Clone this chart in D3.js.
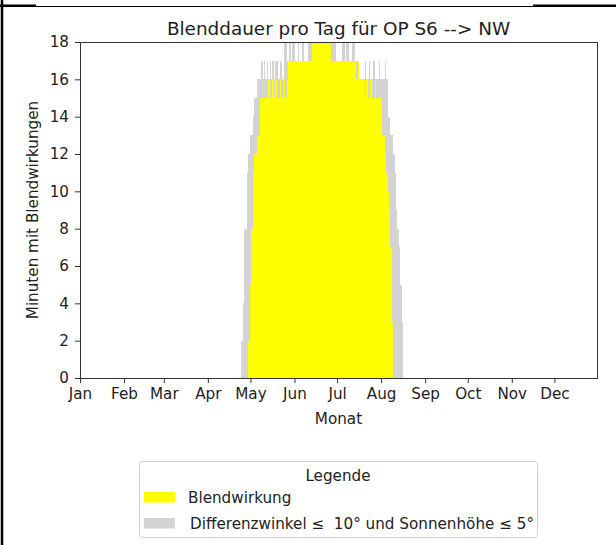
<!DOCTYPE html>
<html>
<head>
<meta charset="utf-8">
<script src="https://cdn.jsdelivr.net/npm/d3@7"></script>
<style>
  html, body { margin: 0; padding: 0; background: #fff; }
  svg { display: block; font-family: "DejaVu Sans", sans-serif; }
</style>
</head>
<body>
<svg id="chart" width="616" height="545"></svg>
<script>
// ---- data ----
const title = "Blenddauer pro Tag für OP S6 --> NW";
const xLabel = "Monat";
const yLabel = "Minuten mit Blendwirkungen";
const legendTitle = "Legende";
const seriesNames = ["Blendwirkung", "Differenzwinkel ≤  10° und Sonnenhöhe ≤ 5°"];
const seriesColors = ["#ffff00", "#d3d3d3"];
const year = 2021;
const firstDay = "2021-04-25"; // first day of both daily arrays
// minutes per day, condition "Differenzwinkel / Sonnenhöhe" (grey), from Apr 25
const greyMinutes = [
  2,4,8,8,11,12,13,13,14,15,15,16,16,16,
  17,16,17,16,17,16,17,16,17,16,17,17,16,17,17,16,
  18,18,17,17,18,17,18,18,17,17,18,17,17,18,17,17,17,18,18,18,
  18,18,18,18,18,18,18,18,18,18,18,18,18,
  18,18,18,18,17,17,17,17,18,18,17,18,18,17,17,18,18,17,17,17,
  16,16,16,16,17,16,16,17,16,16,17,16,16,16,17,16,16,16,17,16,
  14,14,13,13,12,11,9,8,7,5,3
];
// minutes per day with Blendwirkung (yellow), from Apr 25
const yellowMinutes = [
  0,0,0,0,0,
  2,5,8,11,12,12,13,13,
  15,15,15,15,15,15,16,15,15,16,15,16,15,15,16,15,15,16,15,16,
  17,17,17,17,17,17,17,17,17,17,17,17,17,17,17,17,17,
  18,18,18,18,18,18,18,18,18,18,18,18,18,
  17,17,17,17,17,17,17,17,17,17,17,17,17,17,17,17,17,17,
  16,17,16,16,16,16,15,16,15,15,16,15,15,16,15,15,15,15,
  13,13,12,11,10,9,7,3
];
const yTicks = [0,2,4,6,8,10,12,14,16,18];
const yMax = 18;

// ---- layout ----
const svg = d3.select("#chart");
const m = {left: 80, right: 597, top: 42, bottom: 378};
const fs = "15.2px";
const parse = d3.utcParse("%Y-%m-%d");
const start = parse(firstDay);
const x = d3.scaleUtc()
  .domain([new Date(Date.UTC(year,0,1)), new Date(Date.UTC(year,11,31))])
  .range([m.left, m.right]);
const y = d3.scaleLinear().domain([0, yMax]).range([m.bottom, m.top]);

// frame lines of the surrounding document
svg.append("line").attr("x1",2).attr("x2",2).attr("y1",0).attr("y2",545)
  .attr("stroke","#000").attr("stroke-width",2.5);
svg.append("line").attr("x1",0).attr("x2",616).attr("y1",6.5).attr("y2",6.5)
  .attr("stroke","#000").attr("stroke-width",1);
svg.append("line").attr("x1",0).attr("x2",36).attr("y1",5.5).attr("y2",5.5)
  .attr("stroke","#000").attr("stroke-width",2);
svg.append("line").attr("x1",533).attr("x2",616).attr("y1",5.5).attr("y2",5.5)
  .attr("stroke","#000").attr("stroke-width",2);

const g = svg.append("g");
svg.append("clipPath").attr("id","plotclip").append("rect")
  .attr("x", m.left).attr("y", m.top).attr("width", m.right-m.left).attr("height", m.bottom-m.top);

function dayData(arr){
  return arr.map((v,i) => ({date: d3.utcDay.offset(start, i), v}));
}
function drawBars(arr, color){
  g.append("g").attr("clip-path","url(#plotclip)")
    .selectAll("rect").data(dayData(arr).filter(d => d.v > 0)).join("rect")
    .attr("x", d => {
      const w = x(d3.utcDay.offset(d.date,1)) - x(d.date);
      return x(d.date) - w/2;
    })
    .attr("width", d => x(d3.utcDay.offset(d.date,1)) - x(d.date))
    .attr("y", d => y(d.v))
    .attr("height", d => y(0) - y(d.v))
    .attr("fill", color)
    .attr("shape-rendering","crispEdges");
}
drawBars(greyMinutes, seriesColors[1]);
drawBars(yellowMinutes, seriesColors[0]);

// axes
const axisColor = "#333";
const xAxis = d3.axisBottom(x)
  .tickValues(d3.utcMonth.range(new Date(Date.UTC(year,0,1)), new Date(Date.UTC(year,11,2))))
  .tickFormat(d3.utcFormat("%b")).tickSize(5).tickPadding(5);
const yAxis = d3.axisLeft(y).tickValues(yTicks).tickSize(5).tickPadding(6);

const gx = svg.append("g").attr("transform", `translate(0,${m.bottom})`).call(xAxis);
const gy = svg.append("g").attr("transform", `translate(${m.left},0)`).call(yAxis);
[gx, gy].forEach(a => {
  a.select(".domain").remove();
  a.selectAll(".tick line").attr("stroke", axisColor).attr("stroke-width", 1);
  a.selectAll(".tick text").attr("fill","#222").attr("font-size", fs)
    .attr("font-family","DejaVu Sans");
});

// spines
svg.append("rect").attr("x", m.left).attr("y", m.top)
  .attr("width", m.right-m.left).attr("height", m.bottom-m.top)
  .attr("fill","none").attr("stroke", axisColor).attr("stroke-width",1)
  .attr("shape-rendering","crispEdges");

// titles
svg.append("text").attr("x", (m.left+m.right)/2).attr("y", 35)
  .attr("text-anchor","middle").attr("font-size","18.4px").attr("fill","#222").text(title);
svg.append("text").attr("x", (m.left+m.right)/2).attr("y", 424)
  .attr("text-anchor","middle").attr("font-size", fs).attr("fill","#222").text(xLabel);
svg.append("text").attr("transform", `translate(38,${(m.top+m.bottom)/2}) rotate(-90)`)
  .attr("text-anchor","middle").attr("font-size", fs).attr("fill","#222").text(yLabel);

// legend
const lg = svg.append("g");
lg.append("rect").attr("x",139.5).attr("y",461.5).attr("width",398).attr("height",76)
  .attr("rx",3).attr("fill","#fff").attr("stroke","#d0d0d0").attr("stroke-width",1);
lg.append("text").attr("x",338).attr("y",481).attr("text-anchor","middle")
  .attr("font-size", fs).attr("fill","#222").text(legendTitle);
[0,1].forEach((k,i) => {
  const yy = 492 + i*26;
  lg.append("rect").attr("x",144).attr("y",yy).attr("width",31).attr("height",10.5)
    .attr("fill", seriesColors[k]);
  lg.append("text").attr("x", k===0 ? 188 : 190).attr("y", yy+11)
    .attr("font-size", fs).attr("fill","#222")
    .style("white-space","pre").text(seriesNames[k]);
});
</script>
</body>
</html>
